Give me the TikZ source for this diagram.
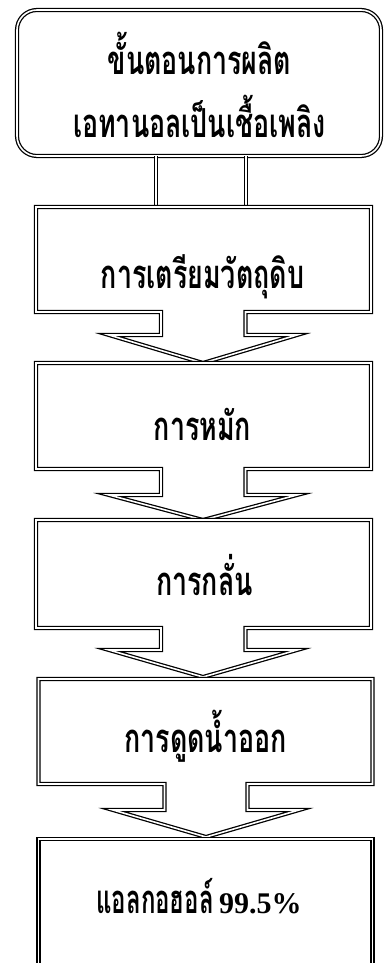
\documentclass[tikz,border=0pt]{standalone}
\usepackage{fontspec}
\setmainfont{Liberation Serif}
\newfontfamily\thaifont[Script=Thai]{Loma}
\newfontfamily\latinbold{Liberation Serif}
\newcommand{\thsq}[1]{\scalebox{0.67}[1]{#1}}
\begin{document}
\begin{tikzpicture}[x=0.75pt,y=-0.75pt,
  dline/.style={draw=black,line width=0.95pt,double=white,double distance=1.2pt,miter limit=20},
  thtxt/.style={anchor=base,inner sep=0pt,font=\thaifont\bfseries\fontsize{30}{32}\selectfont}]
\useasboundingbox (0,0) rectangle (387,963);
\clip (0,0) rectangle (387,963);
% stem
\draw[dline,fill=white] (156,150) rectangle (246,207);
% title box
\draw[dline,fill=white,rounded corners=20*0.75pt] (17,10) rectangle (381,156);
\draw[dline] (156,156) -- (156,207) (246,156) -- (246,207);
\node[thtxt] (t1) at (199.5,75) {\thsq{ขั้นตอนการผลิต}};
\node[thtxt] (t2) at (199.5,138) {\thsq{เอทานอลเป็นเชื้อเพลิง}};
% box 1
\draw[dline,fill=white] (36,207) -- (371,207) -- (371,312) -- (245.5,312) -- (245.5,335) -- (297,335)
  -- (203,363) -- (109,335) -- (161,335) -- (161,312) -- (36,312) -- cycle;
\node[thtxt] (b1) at (202.5,288) {\thsq{การเตรียมวัตถุดิบ}};
% box 2
\draw[dline,fill=white] (36,363) -- (371,363) -- (371,469) -- (245.5,469) -- (245.5,495) -- (297,495)
  -- (203,520) -- (109,495) -- (161,495) -- (161,469) -- (36,469) -- cycle;
\node[thtxt] (b2) at (202.5,440) {\thsq{การหมัก}};
% box 3
\draw[dline,fill=white] (36,520) -- (371,520) -- (371,628) -- (245.5,628) -- (245.5,650) -- (297,650)
  -- (203,677) -- (109,650) -- (161,650) -- (161,628) -- (36,628) -- cycle;
\node[thtxt] (b3) at (204.5,595) {\thsq{การกลั่น}};
% box 4
\draw[dline,fill=white] (38.5,679) -- (372.5,679) -- (372.5,784) -- (247.5,784) -- (247.5,810) -- (299,810)
  -- (206,837) -- (113,810) -- (164.5,810) -- (164.5,784) -- (38.5,784) -- cycle;
\node[thtxt] (b4) at (205.5,752) {\thsq{การดูดน้ำออก}};
% box 5
\draw[dline,fill=white] (38.5,839) -- (372.5,839) -- (372.5,985) -- (38.5,985) -- cycle;
\node[thtxt] (b5) at (199,913) {\scalebox{0.6}[1]{แอลกอฮอล์}\hspace{4pt}{\latinbold\bfseries\fontsize{22.5}{24}\selectfont 99.5\%}};
\end{tikzpicture}
\end{document}
